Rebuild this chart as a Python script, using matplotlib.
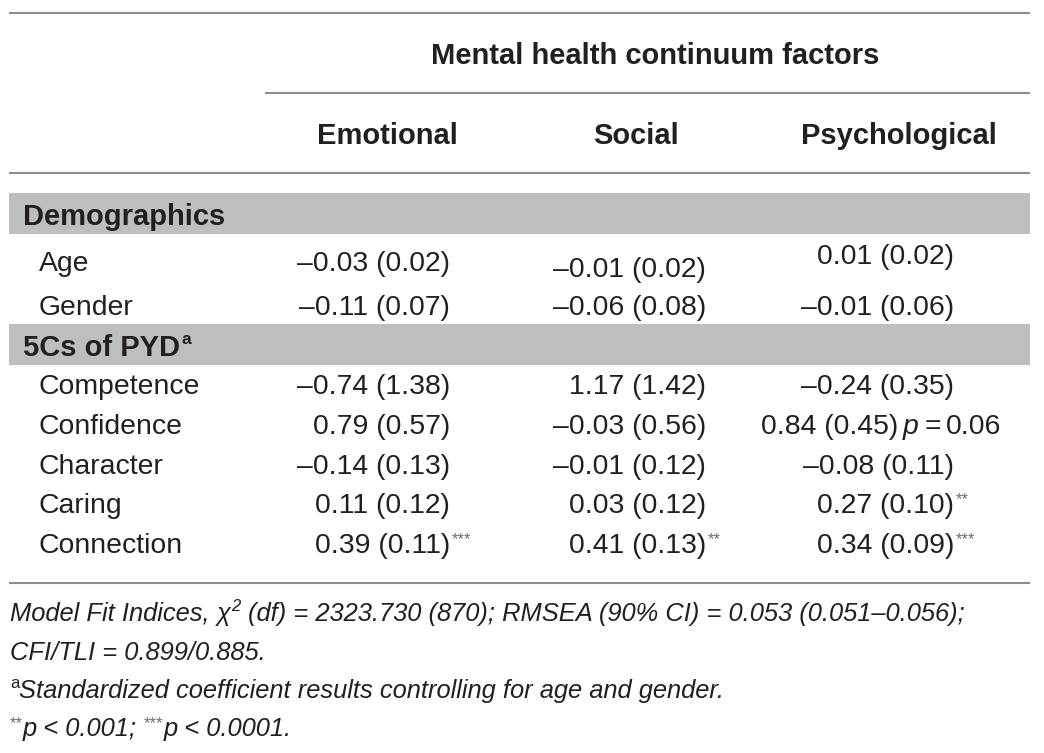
import matplotlib
matplotlib.use("Agg")
import matplotlib.pyplot as plt

# ---------------- data ----------------
row_labels = ["Age", "Gender", "Competence", "Confidence", "Character", "Caring", "Connection"]
section_titles = ["Demographics", "5Cs of PYD"]
column_titles = ["Emotional", "Social", "Psychological"]
spanner_title = "Mental health continuum factors"

emotional_b = [-0.03, -0.11, -0.74, 0.79, -0.14, 0.11, 0.39]
emotional_se = [0.02, 0.07, 1.38, 0.57, 0.13, 0.12, 0.11]
emotional_sig = ["", "", "", "", "", "", "***"]

social_b = [-0.01, -0.06, 1.17, -0.03, -0.01, 0.03, 0.41]
social_se = [0.02, 0.08, 1.42, 0.56, 0.12, 0.12, 0.13]
social_sig = ["", "", "", "", "", "", "**"]

psych_b = [0.01, -0.01, -0.24, 0.84, -0.08, 0.27, 0.34]
psych_se = [0.02, 0.06, 0.35, 0.45, 0.11, 0.10, 0.09]
psych_sig = ["", "", "", "", "", "**", "***"]
psych_note = ["", "", "", "p = 0.06", "", "", ""]

footnote_fit = "(df) = 2323.730 (870); RMSEA (90% CI) = 0.053 (0.051–0.056);"
footnote_fit2 = "CFI/TLI = 0.899/0.885."
footnote_a = "Standardized coefficient results controlling for age and gender."
footnote_p1 = "p < 0.001;"
footnote_p2 = "p < 0.0001."

# ---------------- style ----------------
TXT = "#231f20"
STAR = "#6e6e6e"
RULE = "#8c8c8c"
BAND = "#bcbec0"
FAM = ["Liberation Sans", "DejaVu Sans"]
BODY = 20.4
HEAD = 21.0
FOOT = 18.4

W, H = 1044, 753
fig = plt.figure(figsize=(W / 100, H / 100), dpi=100)
ax = fig.add_axes([0, 0, 1, 1])
ax.set_xlim(0, W)
ax.set_ylim(H, 0)
ax.axis("off")

renderer = fig.canvas.get_renderer()

def fmt(b, se):
    sign = "–" if b < 0 else ""
    return f"{sign}{abs(b):.2f} ({se:.2f})"

# rules
L, R = 9, 1030
ax.plot([L, R], [13, 13], color=RULE, lw=1.5, solid_capstyle="butt")
ax.plot([265, R], [93, 93], color=RULE, lw=1.5, solid_capstyle="butt")
ax.plot([L, R], [173, 173], color=RULE, lw=1.5, solid_capstyle="butt")
ax.plot([L, R], [583, 583], color=RULE, lw=1.5, solid_capstyle="butt")

# section bands
for top, bot in [(193, 234), (324, 365)]:
    ax.fill_between([L, R], [top, top], [bot, bot], color=BAND, lw=0)

# headers
ax.text(655, 64, spanner_title, ha="center", va="baseline", fontsize=HEAD,
        fontweight="bold", color=TXT, family=FAM)
col_centers = [387, 636, 899]
for cx, t in zip(col_centers, column_titles):
    ax.text(cx, 144, t, ha="center", va="baseline", fontsize=HEAD,
            fontweight="bold", color=TXT, family=FAM)

ax.text(23, 225, section_titles[0], ha="left", va="baseline", fontsize=HEAD,
        fontweight="bold", color=TXT, family=FAM)
t5 = ax.text(23, 356, section_titles[1], ha="left", va="baseline", fontsize=HEAD,
             fontweight="bold", color=TXT, family=FAM)
bb = t5.get_window_extent(renderer)
ax.text(23 + bb.width + 1, 344, "a", ha="left", va="baseline", fontsize=12.5,
        fontweight="bold", color=TXT, family=FAM)

# rows
row_base = [271, 315, 394, 434, 474, 513, 553]
for lab, yb in zip(row_labels, row_base):
    ax.text(39, yb, lab, ha="left", va="baseline", fontsize=BODY, color=TXT, family=FAM)

col_right = [450, 706, 954]
age_shift = [0, 6, -7]
cols = [(emotional_b, emotional_se, emotional_sig),
        (social_b, social_se, social_sig),
        (psych_b, psych_se, psych_sig)]
for ci, (bs, ses, sigs) in enumerate(cols):
    for ri in range(len(row_labels)):
        yb = row_base[ri] + (age_shift[ci] if ri == 0 else 0)
        xr = col_right[ci]
        if ci == 2 and psych_note[ri]:
            xr = 898
        ax.text(xr, yb, fmt(bs[ri], ses[ri]), ha="right", va="baseline",
                fontsize=BODY, color=TXT, family=FAM)
        if sigs[ri]:
            ax.text(xr + 2, yb - 21, sigs[ri], ha="left", va="top",
                    fontsize=12, color=STAR, family=FAM)
        if ci == 2 and psych_note[ri]:
            pch, eq, val = psych_note[ri].split(" ")
            ax.text(903, yb, pch, ha="left", va="baseline", fontsize=BODY,
                    style="italic", color=TXT, family=FAM)
            ax.text(925, yb, eq, ha="left", va="baseline", fontsize=BODY,
                    color=TXT, family=FAM)
            ax.text(946, yb, val, ha="left", va="baseline", fontsize=BODY,
                    color=TXT, family=FAM)

# footnotes: draw runs left to right
def runs(x, y, pieces):
    for s, kw, gap in pieces:
        kw = dict(kw)
        dy = kw.pop("dy", 0)
        t = ax.text(x, y + dy, s, ha="left", va="baseline", family=FAM, **kw)
        x += t.get_window_extent(renderer).width + gap
    return x

IT = dict(fontsize=FOOT, style="italic", color=TXT)
SUP = dict(fontsize=12, dy=-10, color=TXT)
SSTAR = dict(fontsize=12, dy=-8, color=STAR)
SPACE = 7

runs(10, 621, [("Model Fit Indices,", IT, SPACE),
               ("χ", IT, 1),
               ("2", dict(SUP, style="italic"), SPACE),
               (footnote_fit, IT, 0)])
runs(10, 660, [(footnote_fit2, IT, 0)])
runs(10, 698, [("a", SUP, 0), (footnote_a, IT, 0)])
runs(10, 736, [("**", SSTAR, 0),
               (footnote_p1, IT, SPACE),
               ("***", SSTAR, 0),
               (footnote_p2, IT, 0)])

fig.savefig("out.png", dpi=100, facecolor="white")
